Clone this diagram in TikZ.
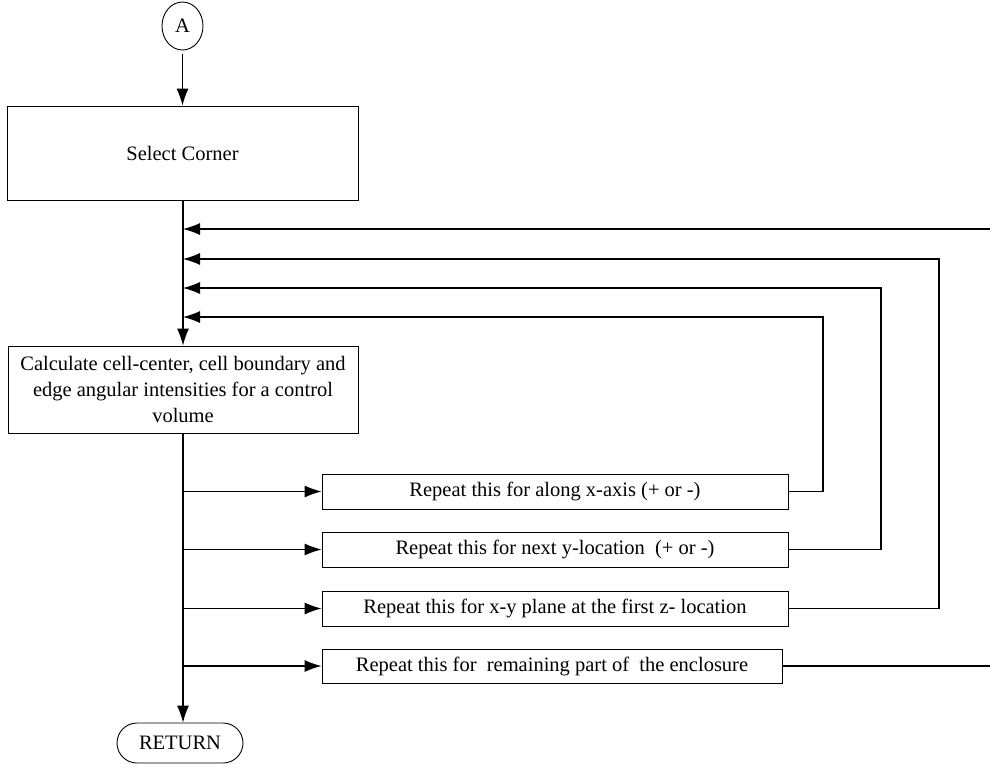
\documentclass[tikz,border=0pt]{standalone}
\usepackage{fontspec}
\setmainfont{Liberation Serif}
\usetikzlibrary{arrows.meta,shapes.geometric}

\begin{document}
\begin{tikzpicture}[x=1pt, y=-1pt,
          every node/.style={font=\fontsize{20.5}{26}\selectfont},
          box/.style={draw, rectangle, inner sep=0pt, align=center, line width=0.9pt},
          flow/.style={-{Latex[length=17pt,width=12pt]}},
          line width=1.1pt]
            \useasboundingbox (0,0) rectangle (990,769);

            \node[draw, ellipse, inner sep=0pt, line width=0.9pt,
                  minimum width=41pt, minimum height=48pt] (A) at (182.5,26) {A};

            \node[box, minimum width=351pt, minimum height=94pt] (sel) at (182.5,153) {Select Corner};

            \node[box, minimum width=350pt, minimum height=87pt] (calc) at (183,389.5)
              {Calculate cell-center, cell boundary and\\ edge angular intensities for a control\\ volume};

            \node[box, minimum width=466pt, minimum height=35pt] (rep1) at (555,491.5) {Repeat this for along x-axis (+ or -)};
            \node[box, minimum width=466pt, minimum height=35pt] (rep2) at (555,549.5) {Repeat this for next y-location~ (+ or -)};
            \node[box, minimum width=466pt, minimum height=35pt] (rep3) at (555,608.5) {Repeat this for x-y plane at the first z- location};
            \node[box, minimum width=460pt, minimum height=34pt] (rep4) at (552,666) {Repeat this for~ remaining part of~ the enclosure};

            \node[draw, rectangle, rounded corners=20pt, line width=0.9pt,
                  minimum width=126pt, minimum height=40pt] (ret) at (180,743) {RETURN};

            % feedback entry points on the main line
            \coordinate (in1) at (183,317);
            \coordinate (in2) at (183,288);
            \coordinate (in3) at (183,259);
            \coordinate (in4) at (183,229);

            % corners of the feedback loops
            \coordinate (k1) at (823,317);
            \coordinate (k2) at (881,288);
            \coordinate (k3) at (939,259);
            \coordinate (e4) at (990,666);
            \coordinate (e0) at (990,229);

            \draw[flow, shorten <=4pt] (A) -- (sel);
            \draw[flow] (sel.south -| calc.north) -- (calc.north);
            \draw[flow] (calc.south) -- (calc.south |- ret.north);

            \foreach \r in {1,...,4}
              \draw[flow] (calc.south |- rep\r.west) -- (rep\r.west);

            \draw[flow] (rep1.east) -| (k1) -- (in1);
            \draw[flow] (rep2.east) -| (k2) -- (in2);
            \draw[flow] (rep3.east) -| (k3) -- (in3);
            \draw (rep4.east) -- (e4);
            \draw[flow] (e0) -- (in4);
          \end{tikzpicture}
\end{document}
